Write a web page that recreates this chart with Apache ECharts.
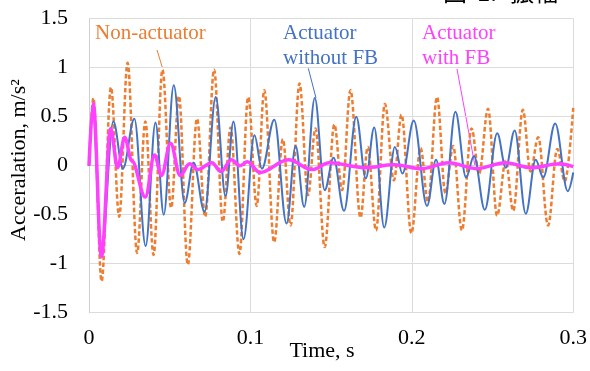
<!DOCTYPE html>
<html><head><meta charset="utf-8">
<script src="https://cdn.jsdelivr.net/npm/echarts@6/dist/echarts.min.js"></script>
<style>html,body{margin:0;padding:0;background:#fff}#c{width:590px;height:371px}</style>
</head><body><div id="c"></div>
<script>
// ---- data (time in s, acceleration in m/s^2) ----
const nonActT = [0,0.0027,0.0078,0.0136,0.0187,0.0239,0.0298,0.0349,0.0400,0.0455,0.0509,0.0557,0.0612,0.0669,0.0720,0.0775,0.0829,0.0877,0.0932,0.0986,0.1039,0.1086,0.1147,0.1201,0.1249,0.1304,0.1357,0.1403,0.1460,0.1520,0.1568,0.1620,0.1682,0.1727,0.1778,0.1833,0.1889,0.1936,0.1997,0.2054,0.2100,0.2156,0.2208,0.2256,0.2310,0.2370,0.2417,0.2472,0.2528,0.2582,0.2628,0.2688,0.2735,0.2783,0.2844,0.2901,0.2948,0.3000];
const nonActV = [0,0.69,-1.18,0.80,-0.52,1.05,-0.89,0.45,-0.91,0.98,-0.43,0.71,-1.01,0.48,-0.52,0.98,-0.57,0.39,-0.90,0.70,-0.41,0.77,-0.78,0.27,-0.61,0.84,-0.30,0.38,-0.83,0.42,-0.25,0.77,-0.53,0.19,-0.66,0.63,-0.15,0.52,-0.69,0.18,-0.37,0.70,-0.28,0.20,-0.66,0.38,-0.08,0.58,-0.51,0.05,-0.46,0.57,-0.06,0.29,-0.61,0.17,-0.16,0.59];
const noFbT = [0,0.0024,0.0076,0.0151,0.0210,0.0281,0.0351,0.0412,0.0463,0.0525,0.0593,0.0648,0.0716,0.0785,0.0846,0.0895,0.0957,0.1025,0.1071,0.1148,0.1224,0.1280,0.1333,0.1399,0.1460,0.1515,0.1580,0.1656,0.1715,0.1767,0.1829,0.1895,0.1942,0.2012,0.2094,0.2150,0.2202,0.2270,0.2336,0.2385,0.2452,0.2529,0.2582,0.2637,0.2706,0.2767,0.2814,0.2888,0.2966,0.3000];
const noFbV = [0,0.58,-0.90,0.45,-0.03,0.48,-0.82,0.44,-0.50,0.82,-0.38,0.03,-0.47,0.70,-0.31,0.45,-0.75,0.31,-0.03,0.47,-0.59,0.20,-0.42,0.69,-0.25,0.08,-0.46,0.50,-0.13,0.39,-0.63,0.19,-0.08,0.46,-0.41,0.06,-0.39,0.55,-0.12,0.10,-0.45,0.33,-0.02,0.36,-0.49,0.06,-0.12,0.43,-0.26,-0.07];
const fbT = [0,0.0026,0.0077,0.0134,0.0177,0.0221,0.0265,0.0349,0.0406,0.0449,0.0505,0.0565,0.0623,0.0673,0.0761,0.0818,0.0883,0.0935,0.0981,0.1059,0.1235,0.1383,0.1488,0.1710,0.1889,0.2062,0.2228,0.2401,0.2580,0.2741,0.2914,0.3000];
const fbV = [0,0.64,-0.93,0.38,-0.02,0.29,0.05,-0.32,0.11,-0.10,0.23,-0.10,0.02,-0.04,0.03,-0.06,0.06,0.00,0.04,-0.07,0.06,-0.04,0.03,-0.02,0.01,-0.03,0.03,-0.03,0.03,-0.02,0.02,-0.01];
const xTickLabels = ['0','0.1','0.2','0.3'];
const yTickLabels = ['-1.5','-1','-0.5','0','0.5','1','1.5'];
const seriesNames = ['Non-actuator','Actuator without FB','Actuator with FB'];

const zip = (t, v) => t.map((x, i) => [x, v[i]]);
const serif = '"Liberation Serif","Times New Roman",serif';
const chart = echarts.init(document.getElementById('c'), null, {renderer: 'canvas'});
chart.setOption({
  animation: false,
  backgroundColor: '#fff',
  grid: {left: 89, right: 15, top: 18.7, bottom: 58.3, containLabel: false},
  xAxis: {
    type: 'value', min: 0, max: 0.3, interval: 0.1,
    axisLine: {show: true, lineStyle: {color: '#d0d0d0', width: 1}},
    axisTick: {show: false},
    splitLine: {show: true, lineStyle: {color: '#dcdcdc', width: 1}},
    axisLabel: {margin: 15, fontFamily: serif, fontSize: 22, color: '#000',
      formatter: v => xTickLabels[Math.round(v / 0.1)]}
  },
  yAxis: {
    type: 'value', min: -1.5, max: 1.5, interval: 0.5,
    axisLine: {show: true, lineStyle: {color: '#d0d0d0', width: 1}},
    axisTick: {show: false},
    splitLine: {show: true, lineStyle: {color: '#dcdcdc', width: 1}},
    axisLabel: {margin: 21, fontFamily: serif, fontSize: 22, color: '#000',
      formatter: v => yTickLabels[Math.round((v + 1.5) / 0.5)]}
  },
  series: [
    {name: seriesNames[0], type: 'line', data: zip(nonActT, nonActV), smooth: 0.36, smoothMonotone: 'x', symbol: 'none',
      lineStyle: {color: '#ED7D31', width: 2.5, type: [4.5, 2.5]}, z: 2},
    {name: seriesNames[1], type: 'line', data: zip(noFbT, noFbV), smooth: 0.36, smoothMonotone: 'x', symbol: 'none',
      lineStyle: {color: '#4472C4', width: 2}, z: 3},
    {name: seriesNames[2], type: 'line', data: zip(fbT, fbV), smooth: 0.36, smoothMonotone: 'x', symbol: 'none',
      lineStyle: {color: '#FF40FF', width: 3.5}, z: 4}
  ],
  graphic: [
    {type: 'text', x: 19, y: 160, rotation: Math.PI / 2,
      style: {text: 'Acceralation, m/s²', font: '22px ' + serif, fill: '#000', align: 'center', verticalAlign: 'middle'}},
    {type: 'text', x: 322, y: 351,
      style: {text: 'Time, s', font: '22px ' + serif, fill: '#000', align: 'center', verticalAlign: 'middle'}},
    {type: 'text', x: 95, y: 33,
      style: {text: 'Non-actuator', font: '21px ' + serif, fill: '#ED7D31', align: 'left', verticalAlign: 'middle'}},
    {type: 'line', shape: {x1: 157, y1: 50, x2: 162.5, y2: 68}, style: {stroke: '#ED7D31', lineWidth: 1}},
    {type: 'text', x: 283, y: 33.6,
      style: {text: 'Actuator', font: '21px ' + serif, fill: '#4472C4', align: 'left', verticalAlign: 'middle'}},
    {type: 'text', x: 283, y: 58,
      style: {text: 'without FB', font: '21px ' + serif, fill: '#4472C4', align: 'left', verticalAlign: 'middle'}},
    {type: 'line', shape: {x1: 308.3, y1: 68.3, x2: 316, y2: 98}, style: {stroke: '#4472C4', lineWidth: 1}},
    {type: 'text', x: 422, y: 33.6,
      style: {text: 'Actuator', font: '21px ' + serif, fill: '#FF40FF', align: 'left', verticalAlign: 'middle'}},
    {type: 'text', x: 422, y: 58,
      style: {text: 'with FB', font: '21px ' + serif, fill: '#FF40FF', align: 'left', verticalAlign: 'middle'}},
    {type: 'line', shape: {x1: 457, y1: 69, x2: 475, y2: 166}, style: {stroke: '#FF40FF', lineWidth: 1}},
    {type: 'text', x: 443, y: 4,
      style: {text: '図', font: '24px "Noto Sans CJK JP"', fill: '#000', align: 'left', verticalAlign: 'bottom'}},
    {type: 'text', x: 477, y: 4,
      style: {text: '1.', font: '24px "Noto Sans CJK JP"', fill: '#000', align: 'left', verticalAlign: 'bottom'}},
    {type: 'text', x: 510, y: 4,
      style: {text: '振幅', font: '24px "Noto Sans CJK JP"', fill: '#000', align: 'left', verticalAlign: 'bottom'}}
  ]
});
</script></body></html>
